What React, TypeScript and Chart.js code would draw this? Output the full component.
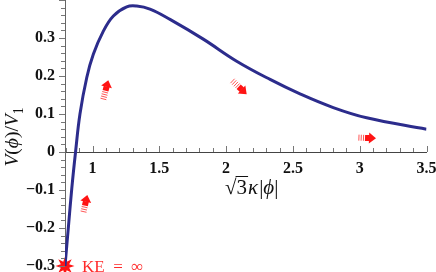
import React, { useEffect, useRef } from "react";
import { Chart, registerables } from "chart.js";
Chart.register(...registerables);

// ---- data ----
const curveX = [0.794, 0.82, 0.845, 0.873, 0.906, 0.957, 1.006, 1.081, 1.156, 1.256, 1.331, 1.43, 1.58, 1.829, 2.079, 2.329, 2.553, 2.802, 3.052, 3.5];
const curveY = [-0.3, -0.195, -0.095, 0.0, 0.1, 0.196, 0.257, 0.318, 0.358, 0.382, 0.384, 0.376, 0.349, 0.297, 0.239, 0.191, 0.153, 0.117, 0.09, 0.06];
const xTicks = [1, 1.5, 2, 2.5, 3, 3.5];
const yTicks = [-0.3, -0.2, -0.1, 0, 0.1, 0.2, 0.3];
const xRange = [0.794, 3.5];
const yRange = [-0.3, 0.4];
const arrowTailX = [1.081, 0.931, 2.042, 2.978];
const arrowTailY = [0.139, -0.16, 0.189, 0.038];
const arrowTipX = [1.118, 0.961, 2.154, 3.122];
const arrowTipY = [0.189, -0.113, 0.152, 0.036];
const starX = [0.794];
const starY = [-0.3];
const starLabel = "KE\u2002=\u2002\u221E";

const SERIF = '"Liberation Serif", "DejaVu Serif", serif';
const RED = "#ff1414";

function fmt(v: number) {
  const s = String(Math.round(v * 1000) / 1000);
  return s.replace("-", "\u2212");
}

function makeStar() {
  const c = document.createElement("canvas");
  c.width = 20;
  c.height = 20;
  const g = c.getContext("2d")!;
  g.fillStyle = RED;
  g.beginPath();
  const n = 8;
  for (let i = 0; i < n * 2; i++) {
    const r = i % 2 === 0 ? 9.5 : 4.5;
    const a = (Math.PI * i) / n - Math.PI / 2;
    const px = 10 + r * Math.cos(a);
    const py = 10 + r * Math.sin(a);
    if (i === 0) g.moveTo(px, py);
    else g.lineTo(px, py);
  }
  g.closePath();
  g.fill();
  return c;
}

function drawPieces(ctx: CanvasRenderingContext2D, pieces: any[], x0: number, y0: number, size: number) {
  let total = 0;
  const widths: number[] = [];
  for (const p of pieces) {
    const fs = p.sub ? size * 0.7 : size;
    ctx.font = `${p.it ? "italic " : ""}${fs}px ${SERIF}`;
    const w = ctx.measureText(p.t).width + (p.gap || 0);
    widths.push(w);
    total += w;
  }
  let x = x0 - total / 2;
  const pos: number[] = [];
  pieces.forEach((p, i) => {
    const fs = p.sub ? size * 0.7 : size;
    ctx.font = `${p.it ? "italic " : ""}${fs}px ${SERIF}`;
    pos.push(x);
    ctx.fillText(p.t, x, y0 + (p.sub ? size * 0.25 : 0));
    x += widths[i];
  });
  return { pos, widths };
}

const zeroPad = () => ({ left: 0, top: 0, right: 0, bottom: 0 });

const decor = {
  id: "decor",
  afterDraw(chart: any) {
    const { ctx, chartArea, scales } = chart;
    const xs = scales.x;
    const ys = scales.y;
    const y0 = ys.getPixelForValue(0);
    ctx.save();
    // minor / major ticks
    ctx.strokeStyle = "#777";
    ctx.lineWidth = 1;
    ctx.beginPath();
    for (let i = Math.ceil(yRange[0] / 0.02 - 1e-9); i * 0.02 <= yRange[1] + 1e-9; i++) {
      const v = i * 0.02;
      const py = Math.round(ys.getPixelForValue(v)) + 0.5;
      const major = i % 5 === 0;
      ctx.moveTo(chartArea.left - (major ? 6 : 4), py);
      ctx.lineTo(chartArea.left, py);
    }
    for (let i = Math.ceil(xRange[0] / 0.1 - 1e-9); i * 0.1 <= xRange[1] + 1e-9; i++) {
      const v = i * 0.1;
      const px = Math.round(xs.getPixelForValue(v)) + 0.5;
      const major = i % 5 === 0;
      ctx.moveTo(px, y0);
      ctx.lineTo(px, y0 - (major ? 6 : 4));
    }
    ctx.stroke();

    // arrows
    for (let k = 0; k < arrowTailX.length; k++) {
      const tx = xs.getPixelForValue(arrowTailX[k]);
      const ty = ys.getPixelForValue(arrowTailY[k]);
      const hx = xs.getPixelForValue(arrowTipX[k]);
      const hy = ys.getPixelForValue(arrowTipY[k]);
      const len = Math.hypot(hx - tx, hy - ty);
      const ux = (hx - tx) / len;
      const uy = (hy - ty) / len;
      const nx = -uy;
      const ny = ux;
      const hl = 7;
      const hw = 5.5;
      const sw = 3;
      ctx.fillStyle = RED;
      ctx.beginPath();
      ctx.moveTo(hx, hy);
      ctx.lineTo(hx - ux * hl + nx * hw, hy - uy * hl + ny * hw);
      ctx.lineTo(hx - ux * hl - nx * hw, hy - uy * hl - ny * hw);
      ctx.closePath();
      ctx.fill();
      const b0 = hl - 0.5;
      const b1 = hl + 4;
      ctx.beginPath();
      ctx.moveTo(hx - ux * b0 + nx * sw, hy - uy * b0 + ny * sw);
      ctx.lineTo(hx - ux * b1 + nx * sw, hy - uy * b1 + ny * sw);
      ctx.lineTo(hx - ux * b1 - nx * sw, hy - uy * b1 - ny * sw);
      ctx.lineTo(hx - ux * b0 - nx * sw, hy - uy * b0 - ny * sw);
      ctx.closePath();
      ctx.fill();
      ctx.strokeStyle = "rgba(255,30,30,0.75)";
      ctx.lineWidth = 1;
      ctx.beginPath();
      for (let d = b1 + 1.5; d <= len; d += 2.3) {
        ctx.moveTo(hx - ux * d + nx * sw, hy - uy * d + ny * sw);
        ctx.lineTo(hx - ux * d - nx * sw, hy - uy * d - ny * sw);
      }
      ctx.stroke();
    }

    // KE label
    const sx = xs.getPixelForValue(starX[0]);
    const sy = ys.getPixelForValue(starY[0]);
    ctx.fillStyle = "#ff2a2a";
    ctx.font = `17px ${SERIF}`;
    ctx.textAlign = "left";
    ctx.textBaseline = "alphabetic";
    ctx.fillText(starLabel, sx + 17, sy + 6);

    // axis titles
    ctx.fillStyle = "#111";
    const cx = (chartArea.left + chartArea.right) / 2 + 6;
    const { pos, widths } = drawPieces(
      ctx,
      [
        { t: "\u221A" },
        { t: "3", gap: 1 },
        { t: "\u03BA", it: true, gap: 1 },
        { t: "|" },
        { t: "\u03D5", it: true },
        { t: "|" },
      ],
      cx,
      y0 + 42,
      21
    );
    ctx.strokeStyle = "#111";
    ctx.lineWidth = 1;
    ctx.beginPath();
    const oy = y0 + 42 - 17.5;
    ctx.moveTo(pos[1] - 1, oy);
    ctx.lineTo(pos[1] + widths[1], oy);
    ctx.stroke();

    ctx.save();
    ctx.translate(18, (chartArea.top + chartArea.bottom) / 2 + 4);
    ctx.rotate(-Math.PI / 2);
    drawPieces(
      ctx,
      [
        { t: "V", it: true },
        { t: "(" },
        { t: "\u03D5", it: true },
        { t: ")" },
        { t: "/" },
        { t: "V", it: true },
        { t: "1", sub: true },
      ],
      0,
      0,
      19.5
    );
    ctx.restore();
    ctx.restore();
  },
};

export default function App() {
  const ref = useRef<HTMLCanvasElement>(null);
  useEffect(() => {
    const star = makeStar();
    const chart = new Chart(ref.current!, {
      type: "line",
      data: {
        datasets: [
          {
            data: curveX.map((x, i) => ({ x, y: curveY[i] })),
            borderColor: "#2c2c8c",
            borderWidth: 3,
            pointRadius: 0,
            tension: 0.4,
            fill: false,
          },
          {
            type: "scatter",
            data: starX.map((x, i) => ({ x, y: starY[i] })),
            pointStyle: star as any,
            pointRadius: 10,
            clip: false as any,
          } as any,
        ],
      },
      options: {
        animation: false,
        responsive: false,
        layout: { autoPadding: false, padding: { left: 0, right: 9.5, top: 0, bottom: 6 } },
        plugins: { legend: { display: false }, tooltip: { enabled: false } },
        scales: {
          x: {
            type: "linear",
            min: xRange[0],
            max: xRange[1],
            position: { y: 0 } as any,
            afterBuildTicks: (s: any) => {
              s.ticks = xTicks.map((v) => ({ value: v }));
            },
            afterFit: (s: any) => {
              s.paddingLeft = 0;
              s.paddingRight = 0;
              s.getPadding = zeroPad;
            },
            grid: { display: false, drawTicks: false },
            border: { display: true, color: "#444", width: 1 },
            ticks: {
              padding: 7,
              color: "#111",
              font: { family: SERIF, size: 16, weight: "bold" },
              callback: (v: any) => fmt(Number(v)),
              maxRotation: 0,
              autoSkip: false,
            },
          },
          y: {
            type: "linear",
            min: yRange[0],
            max: yRange[1],
            afterBuildTicks: (s: any) => {
              s.ticks = yTicks.map((v) => ({ value: v }));
            },
            afterFit: (s: any) => {
              s.width = 65;
              s.paddingTop = 0;
              s.paddingBottom = 0;
              s.getPadding = zeroPad;
            },
            grid: { display: false, drawTicks: false },
            border: { display: true, color: "#666", width: 1 },
            ticks: {
              padding: 10,
              color: "#111",
              font: { family: SERIF, size: 16, weight: "bold" },
              callback: (v: any) => fmt(Number(v)),
              autoSkip: false,
            },
          },
        },
      },
      plugins: [decor],
    });
    return () => chart.destroy();
  }, []);
  return (
    <div style={{ position: "fixed", left: 0, top: 0, width: 436, height: 272 }}>
      <canvas ref={ref} width={436} height={272} style={{ display: "block" }} />
    </div>
  );
}
